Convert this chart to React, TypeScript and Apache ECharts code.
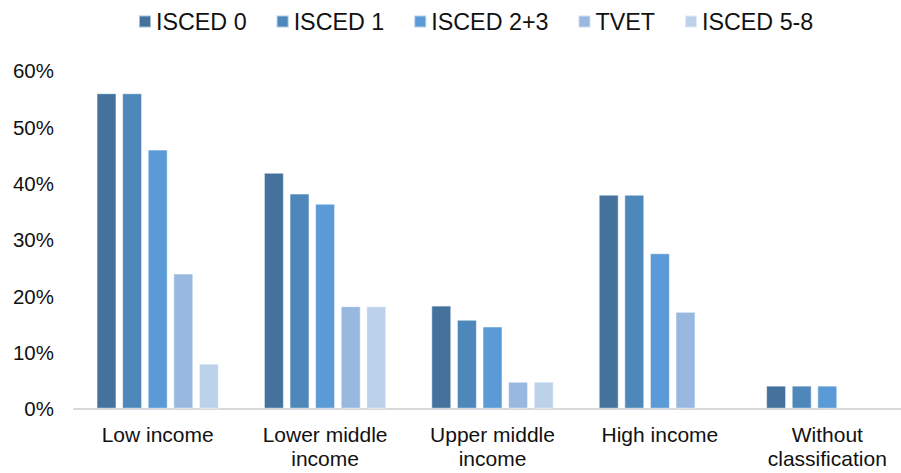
import React, { useEffect, useRef } from "react";
import * as echarts from "echarts";

// Income groups along the x axis
const categories = [
  "Low income",
  "Lower middle\nincome",
  "Upper middle\nincome",
  "High income",
  "Without\nclassification",
];

// Share (%) by education level
const isced0 = [56, 41.9, 18.3, 38, 4.1];
const isced1 = [56, 38.2, 15.8, 38, 4.1];
const isced23 = [46, 36.4, 14.6, 27.6, 4.1];
const tvet = [24, 18.2, 4.8, 17.2, null];
const isced58 = [8, 18.2, 4.8, null, null];

const seriesNames = ["ISCED 0", "ISCED 1", "ISCED 2+3", "TVET", "ISCED 5-8"];
const seriesValues = [isced0, isced1, isced23, tvet, isced58];
const seriesColors = ["#44729d", "#4e88ba", "#5a9ad6", "#98b8df", "#bcd1ea"];

const yTicks = { min: 0, max: 60, interval: 10 };

const FONT = "'Liberation Sans', Arial, sans-serif";

export default function App() {
  const ref = useRef<HTMLDivElement>(null);

  useEffect(() => {
    if (!ref.current) return;
    const chart = echarts.init(ref.current, null, { renderer: "svg" });
    chart.setOption({
      animation: false,
      backgroundColor: "#ffffff",
      textStyle: { fontFamily: FONT },
      legend: {
        left: 133,
        top: 5,
        icon: "rect",
        itemWidth: 12,
        itemHeight: 12,
        itemGap: 29,
        textStyle: { fontSize: 23.3, color: "#111", fontFamily: FONT },
        data: seriesNames,
      },
      grid: {
        left: 74,
        top: 70.7,
        width: 837,
        height: 338,
        containLabel: false,
      },
      xAxis: {
        type: "category",
        data: categories,
        axisTick: { show: false },
        axisLine: { lineStyle: { color: "#d9d9d9", width: 2 } },
        axisLabel: {
          color: "#111",
          fontSize: 21,
          lineHeight: 24,
          margin: 14,
          fontFamily: FONT,
          interval: 0,
        },
      },
      yAxis: {
        type: "value",
        min: yTicks.min,
        max: yTicks.max,
        interval: yTicks.interval,
        splitLine: { show: false },
        axisLine: { show: false },
        axisTick: { show: false },
        axisLabel: {
          formatter: "{value}%",
          color: "#111",
          fontSize: 20.5,
          margin: 20,
          fontFamily: FONT,
        },
      },
      series: seriesNames.map((name, i) => ({
        name,
        type: "bar",
        data: seriesValues[i],
        barWidth: 20,
        barGap: "28%",
        itemStyle: {
          color: seriesColors[i],
          borderColor: "rgba(255,255,255,0.55)",
          borderWidth: 1,
        },
      })),
    });
    return () => chart.dispose();
  }, []);

  // The plot runs past the right edge, so the chart is drawn wider and clipped.
  return (
    <div
      style={{
        position: "absolute",
        left: 0,
        top: 0,
        width: 901,
        height: 473,
        overflow: "hidden",
        background: "#fff",
      }}
    >
      <div ref={ref} style={{ width: 920, height: 473 }} />
    </div>
  );
}
